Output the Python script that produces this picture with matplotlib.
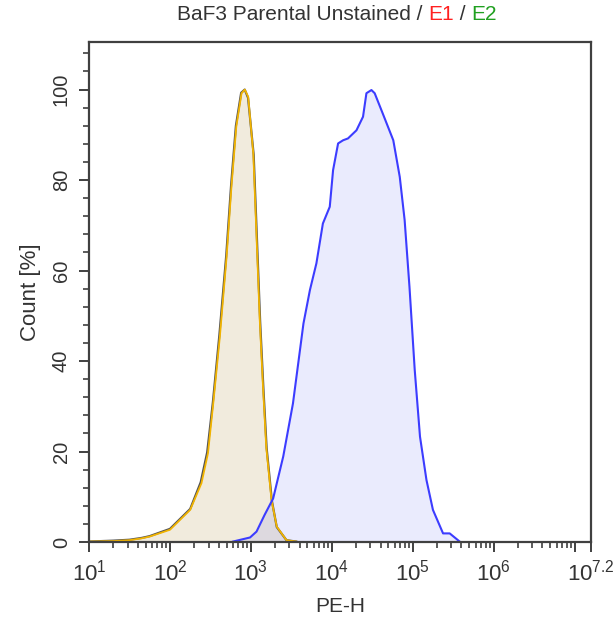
import numpy as np
import matplotlib.pyplot as plt
from matplotlib.ticker import FixedLocator, LogLocator, NullFormatter

plt.rcParams['font.family'] = ['Liberation Sans', 'DejaVu Sans']
plt.rcParams['mathtext.fontset'] = 'custom'
plt.rcParams['mathtext.rm'] = 'Liberation Sans'
plt.rcParams['mathtext.it'] = 'Liberation Sans'

# histogram outlines, x as log10(PE-H), y as Count [%]
e1_log = [1.0, 1.3, 1.5, 1.65, 1.75, 2.0, 2.25, 2.39, 2.47, 2.535, 2.617, 2.70, 2.76,
          2.82, 2.885, 2.926, 2.967, 3.03, 3.07, 3.11, 3.15, 3.19, 3.255, 3.32, 3.44, 3.56]
e1_cnt = [0.1, 0.2, 0.4, 0.8, 1.2, 2.7, 7.1, 13.0, 19.6, 30.6, 45.4, 63.0, 78.5,
          91.8, 99.2, 100.0, 98.4, 85.9, 67.5, 49.0, 34.3, 21.0, 9.3, 3.4, 0.4, 0.1]

unst_log = [1.0, 1.3, 1.5, 1.65, 1.75, 2.0, 2.25, 2.38, 2.46, 2.53, 2.61, 2.695, 2.755,
            2.815, 2.88, 2.924, 2.965, 3.035, 3.075, 3.115, 3.155, 3.195, 3.26, 3.32, 3.44, 3.56]
unst_cnt = [0.1, 0.3, 0.5, 0.9, 1.3, 2.9, 7.3, 13.2, 19.8, 30.8, 45.6, 63.2, 78.7,
            92.0, 99.3, 100.0, 98.2, 85.6, 67.2, 48.7, 34.0, 20.8, 9.1, 3.3, 0.4, 0.1]

e2_log = [2.78, 2.99, 3.07, 3.17, 3.275, 3.40, 3.52, 3.65, 3.73, 3.81, 3.89, 3.975,
          4.016, 4.078, 4.14, 4.20, 4.305, 4.386, 4.428, 4.49, 4.53, 4.63, 4.76, 4.84,
          4.90, 4.96, 5.025, 5.09, 5.17, 5.25, 5.375, 5.457, 5.58]
e2_cnt = [0.1, 1.0, 2.3, 6.0, 9.6, 18.9, 30.6, 48.3, 55.7, 61.6, 70.4, 74.1,
          82.2, 88.1, 88.8, 89.2, 91.0, 94.0, 99.2, 99.9, 99.2, 94.7, 88.8, 80.7,
          71.2, 56.4, 38.0, 23.3, 13.7, 7.1, 1.9, 1.9, 0.1]

major_exp = [1, 2, 3, 4, 5, 6, 7, 7.2]
major_lbl = [r'$10^{1}$', r'$10^{2}$', r'$10^{3}$', r'$10^{4}$', r'$10^{5}$',
             r'$10^{6}$', '', r'$10^{7.2}$']
y_ticks = [0, 20, 40, 60, 80, 100]

txt = '#333333'
fig = plt.figure(figsize=(6.16, 6.19), dpi=100)
ax = fig.add_axes([0.1445, 0.1244, 0.8145, 0.8076])

x_e1 = 10 ** np.array(e1_log)
x_un = 10 ** np.array(unst_log)
x_e2 = 10 ** np.array(e2_log)

ax.fill_between(x_e1, e1_cnt, color='#C8B078', alpha=0.25, lw=0)
ax.fill_between(x_e2, e2_cnt, color='#4050F0', alpha=0.11, lw=0)
ax.plot(x_un, unst_cnt, color='#555555', lw=1.6)
ax.plot(x_e1, e1_cnt, color='#F2B400', lw=1.3)
ax.plot(x_e2, e2_cnt, color='#3C3CFF', lw=1.5)

ax.set_xscale('log')
ax.set_xlim(10, 10 ** 7.2)
ax.set_ylim(0, 110.5)

ax.xaxis.set_major_locator(FixedLocator([10 ** e for e in major_exp]))
ax.set_xticklabels(major_lbl)
ax.xaxis.set_minor_locator(LogLocator(base=10, subs=np.arange(2, 10), numticks=20))
ax.xaxis.set_minor_formatter(NullFormatter())

ax.set_yticks(y_ticks)
ax.set_yticks(np.arange(0, 111, 4), minor=True)
ax.set_yticklabels([str(v) for v in y_ticks], rotation=90, va='center')

for s in ax.spines.values():
    s.set_color('#404040')
    s.set_linewidth(1.6)
ax.tick_params(which='major', length=7, width=1.4, color='#404040',
               labelcolor=txt, direction='out')
ax.tick_params(which='minor', length=4, width=1.2, color='#404040', direction='out')
ax.tick_params(axis='x', which='major', labelsize=16, pad=6)
ax.tick_params(axis='y', which='major', labelsize=14.5, pad=6)

ax.set_xlabel('PE-H', fontsize=15, color=txt, labelpad=8)
ax.set_ylabel('Count [%]', fontsize=16, color=txt, labelpad=8)

# title in three colours
parts = [('BaF3 Parental Unstained / ', txt), ('E1', '#FF2020'), (' / ', txt), ('E2', '#20A020')]
fig.canvas.draw()
r = fig.canvas.get_renderer()
widths = []
for s, c in parts:
    t = fig.text(0, 0, s, fontsize=15)
    widths.append(t.get_window_extent(r).width)
    t.remove()
x0 = 0.5 * (89 + 585) - sum(widths) / 2
for (s, c), w in zip(parts, widths):
    fig.text(x0 / 616, 1 - 15 / 619, s, fontsize=15, color=c, va='center', ha='left')
    x0 += w

fig.savefig('out.png', dpi=100)
